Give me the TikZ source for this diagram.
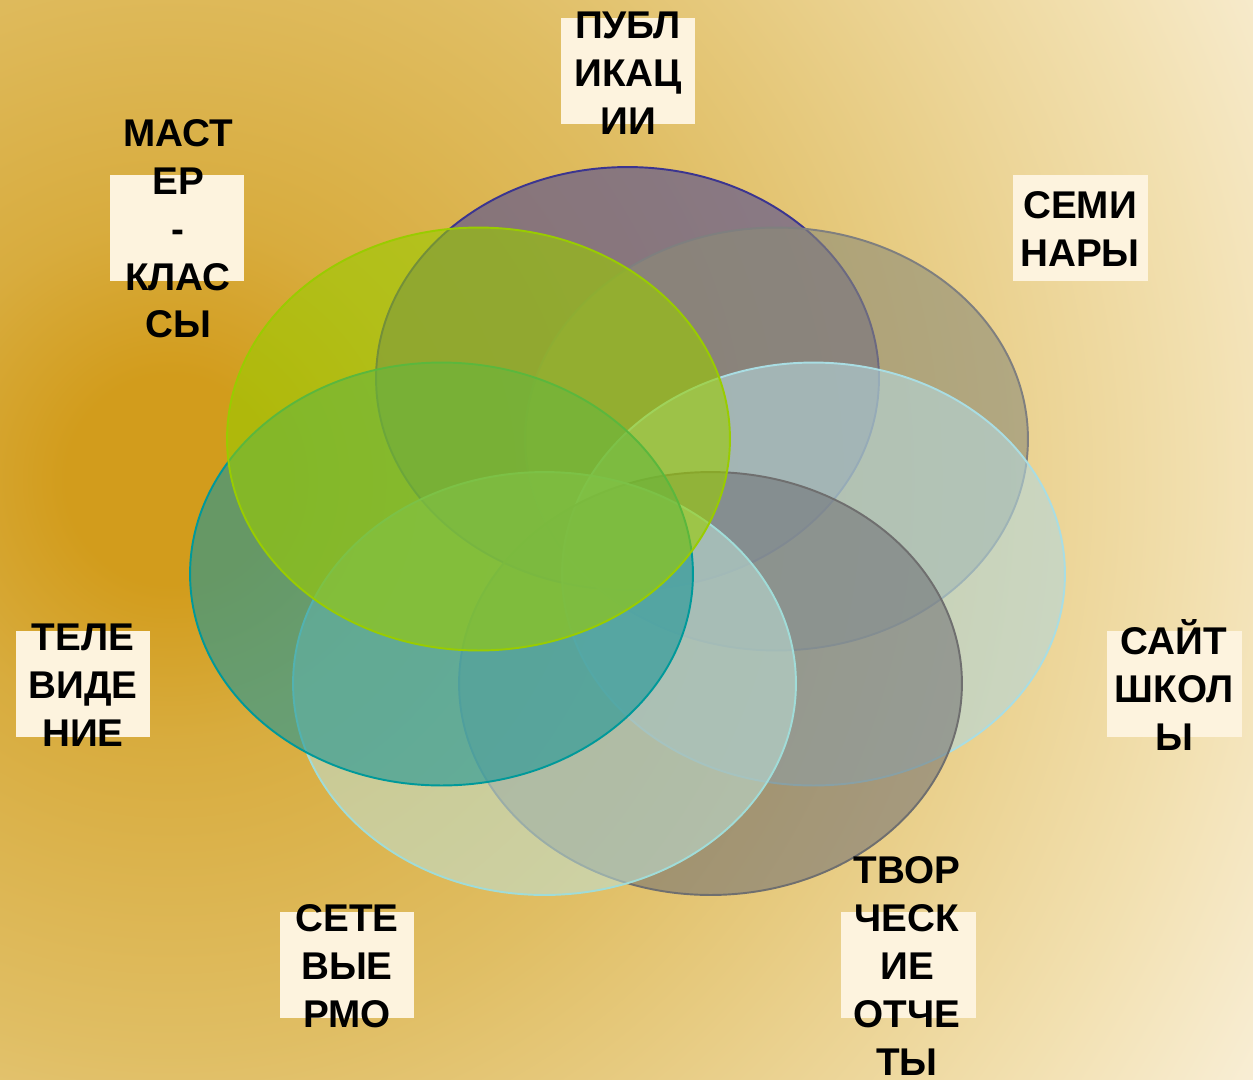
\documentclass[tikz,border=0pt]{standalone}
\usepackage{fontspec}
\newfontfamily\labfont{Liberation Sans}
\definecolor{bgcore}{RGB}{210,156,28}
\definecolor{bgwarm}{RGB}{216,172,62}
\definecolor{bgmid}{RGB}{224,190,100}
\definecolor{bgcream}{RGB}{242,224,176}
\definecolor{bgpale}{RGB}{250,242,224}
\definecolor{boxcream}{RGB}{253,243,222}
\definecolor{pubfill}{RGB}{100,90,140}
\definecolor{publine}{RGB}{59,53,144}
\definecolor{semfill}{RGB}{140,140,120}
\definecolor{semline}{RGB}{127,127,127}
\definecolor{sitefill}{RGB}{180,215,220}
\definecolor{siteline}{RGB}{169,221,227}
\definecolor{tvorfill}{RGB}{110,110,115}
\definecolor{tvorline}{RGB}{111,111,111}
\definecolor{setfill}{RGB}{190,225,215}
\definecolor{setline}{RGB}{160,220,216}
\definecolor{telefill}{RGB}{30,150,150}
\definecolor{teleline}{RGB}{0,153,154}
\definecolor{masfill}{RGB}{153,204,0}
\definecolor{masline}{RGB}{153,204,0}
\pgfdeclareradialshading{bgglow}{\pgfpoint{0bp}{0bp}}{color(0bp)=(bgcore); color(2bp)=(bgcore); color(5bp)=(bgwarm); color(11bp)=(bgmid); color(20bp)=(bgcream); color(25bp)=(bgpale); color(50bp)=(bgpale)}
\begin{document}
\begin{tikzpicture}[x=0.02cm, y=-0.02cm,
    ring/.style={line width=1.1pt},
    labbox/.style={fill=boxcream, minimum width=2.7cm, minimum height=2.12cm, inner sep=0pt},
    labtext/.style={align=center, inner sep=0pt, font=\labfont\bfseries\fontsize{22}{27.2}\selectfont}]
    \useasboundingbox (0, 0) rectangle (1253, 1079);
    % background glow
    \begin{scope}
        \clip (0, 0) rectangle (1253, 1079);
        \shade [shading=bgglow] (170, 480) circle (26cm);
    \end{scope}
    % seven rings, clockwise from the top
    \draw [ring, draw=publine, fill=pubfill, fill opacity=0.7] (627.5, 378.5) circle [x radius=5.03cm, y radius=4.23cm];
    \draw [ring, draw=semline, fill=semfill, fill opacity=0.6] (776.5, 439) circle [x radius=5.03cm, y radius=4.23cm];
    \draw [ring, draw=siteline, fill=sitefill, fill opacity=0.6] (813.5, 574) circle [x radius=5.03cm, y radius=4.23cm];
    \draw [ring, draw=tvorline, fill=tvorfill, fill opacity=0.55] (710.5, 683.5) circle [x radius=5.03cm, y radius=4.23cm];
    \draw [ring, draw=setline, fill=setfill, fill opacity=0.55] (544.5, 683.5) circle [x radius=5.03cm, y radius=4.23cm];
    \draw [ring, draw=teleline, fill=telefill, fill opacity=0.6] (441.5, 574) circle [x radius=5.03cm, y radius=4.23cm];
    \draw [ring, draw=masline, fill=masfill, fill opacity=0.6] (478.5, 439) circle [x radius=5.03cm, y radius=4.23cm];
    % label boxes
    \node [labbox] (pub) at (628, 71) {};
    \node [labbox] (sem) at (1080, 228) {};
    \node [labbox] (site) at (1174, 684) {};
    \node [labbox] (tvor) at (908, 965) {};
    \node [labbox] (set) at (347, 965) {};
    \node [labbox] (tele) at (83, 684) {};
    \node [labbox] (mas) at (177, 228) {};
    % label texts
    \node [labtext] (pubtxt) at (628, 73) {ПУБЛ\\ИКАЦ\\ИИ};
    \node [labtext] (semtxt) at (1080, 229) {СЕМИ\\НАРЫ};
    \node [labtext] (sitetxt) at (1174, 685) {САЙТ\\ШКОЛ\\Ы};
    \node [labtext] (tvortxt) at (907, 966) {ТВОР\\ЧЕСК\\ИЕ\\ОТЧЕ\\ТЫ};
    \node [labtext] (settxt) at (347, 966) {СЕТЕ\\ВЫЕ\\РМО};
    \node [labtext] (teletxt) at (83, 685) {ТЕЛЕ\\ВИДЕ\\НИЕ};
    \node [labtext] (mastxt) at (178, 229) {МАСТ\\ЕР\\-\\КЛАС\\СЫ};
\end{tikzpicture}
\end{document}
